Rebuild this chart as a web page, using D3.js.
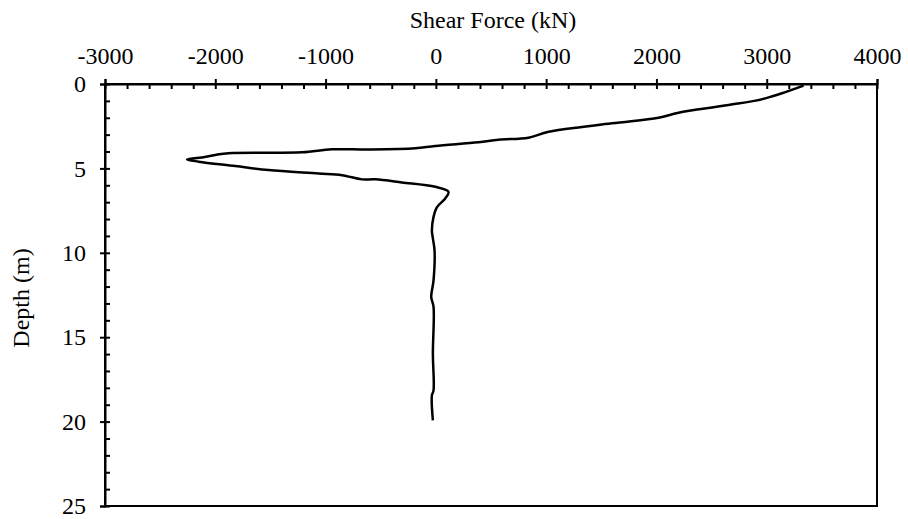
<!DOCTYPE html>
<html>
<head>
<meta charset="utf-8">
<script src="https://cdn.jsdelivr.net/npm/d3@7/dist/d3.min.js"></script>
<style>
  body { margin: 0; background: #fff; }
  svg text { font-family: "Liberation Serif", Times, "DejaVu Serif", serif !important; fill: #000; font-size: 24px; }
  .domain { stroke: #000; stroke-width: 2; }
  .tick line { stroke: #000; stroke-width: 2; }
</style>
</head>
<body>
<svg id="chart"></svg>
<script>
// shear force profile
const depth = [0.1, 0.85, 1.25, 1.7, 2.0, 2.33, 2.83, 3.18, 3.3, 3.45, 3.67, 3.81, 3.88, 3.87, 4.05, 4.1, 4.2, 4.35, 4.47,
  4.6, 4.86, 5.1, 5.3, 5.4, 5.65, 5.65, 5.83, 6.09, 6.39, 6.78, 7.31, 7.87, 8.66, 9.15, 9.85, 11.63, 12.61, 13.2, 15.97, 18.15, 18.45, 19.93];
const shear = [3334, 2987, 2654, 2200, 2019, 1596, 1022, 840, 569, 386, -6, -187, -610, -943, -1215, -1879, -2000, -2121, -2257,
  -2151, -1819, -1517, -1063, -852, -671, -549, -308, -5, 115, 85, 9, -21, -36, -27, -12, -21, -42, -21, -27, -21, -36, -27];
const xTicks = [-3000, -2000, -1000, 0, 1000, 2000, 3000, 4000];
const yTicks = [0, 5, 10, 15, 20, 25];

const svgWidth = 908, svgHeight = 519;
const margin = { top: 84, left: 105, right: 31, bottom: 13 };
const width = svgWidth - margin.left - margin.right;
const height = svgHeight - margin.top - margin.bottom;

const svg = d3.select('#chart').attr('width', svgWidth).attr('height', svgHeight)
  .attr('font-family', 'Liberation Serif');
const g = svg.append('g').attr('transform', 'translate(' + margin.left + ',' + margin.top + ')');

const x = d3.scaleLinear().domain([-3000, 4000]).range([0, width]);
const y = d3.scaleLinear().domain([0, 25]).range([0, height]);

// frame
g.append('rect').attr('width', width).attr('height', height)
  .attr('fill', 'none').attr('stroke', '#000').attr('stroke-width', 2);

// minor ticks, pointing inside
g.append('g')
  .call(d3.axisBottom(x).tickValues(d3.range(-3000, 4001, 200)).tickSize(5).tickFormat(''))
  .call(a => a.select('.domain').remove());
g.append('g')
  .call(d3.axisRight(y).tickValues(d3.range(0, 26, 1)).tickSize(5).tickFormat(''))
  .call(a => a.select('.domain').remove());

// major ticks with labels
const gX = g.append('g')
  .call(d3.axisTop(x).tickValues(xTicks).tickSize(5).tickPadding(15).tickFormat(d => String(d)));
const gY = g.append('g')
  .call(d3.axisLeft(y).tickValues(yTicks).tickSize(5).tickPadding(14).tickFormat(d => String(d)));
gX.attr('font-family', null);
gY.attr('font-family', null);

svg.append('text')
  .attr('x', margin.left + width / 2 + 2).attr('y', 28)
  .attr('text-anchor', 'middle')
  .text('Shear Force (kN)');
svg.append('text')
  .attr('transform', 'translate(29,' + (margin.top + height / 2 + 3) + ') rotate(-90)')
  .attr('text-anchor', 'middle')
  .text('Depth (m)');

const line = d3.line()
  .x((d, i) => x(shear[i]))
  .y(d => y(d))
  .curve(d3.curveCatmullRom);
g.append('path')
  .datum(depth)
  .attr('d', line)
  .attr('fill', 'none').attr('stroke', '#000').attr('stroke-width', 2.5);
</script>
</body>
</html>
